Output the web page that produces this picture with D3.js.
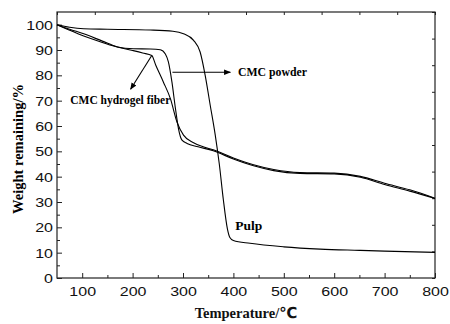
<!DOCTYPE html>
<html>
<head>
<meta charset="utf-8">
<script src="https://cdn.jsdelivr.net/npm/d3@7"></script>
<style>
  html, body { margin: 0; padding: 0; background: #fff; }
  svg { display: block; }
</style>
</head>
<body>
<div id="chart"></div>
<script>
// TGA curves (temperature in °C, weight remaining in %)
const pulpT = [50, 75, 103, 150, 235, 280, 301, 321, 334, 344, 354, 364, 372, 380, 388, 393, 400, 433, 500, 572, 650, 700, 800];
const pulpW = [100, 99.0, 98.4, 98.2, 97.9, 97.4, 96.4, 93.8, 89.2, 80.0, 68.2, 56.4, 45.0, 31.0, 19.5, 16.0, 14.8, 13.7, 12.3, 11.4, 10.9, 10.6, 10.1];

const powderT = [50, 75, 103, 140, 170, 202, 235, 255, 265, 271, 278, 285, 291, 298, 308, 330, 360, 400, 440, 480, 532, 600, 652, 700, 750, 800];
const powderW = [100, 97.8, 95.5, 93.0, 91.2, 90.5, 90.4, 90.1, 88.4, 85.3, 77.4, 66.9, 59.0, 54.4, 53.1, 51.8, 50.2, 47.0, 44.3, 42.4, 41.3, 41.1, 39.8, 36.9, 34.3, 31.4];

const hydroT = [50, 75, 103, 140, 170, 200, 220, 238, 246, 261, 275, 288, 301, 321, 340, 360, 400, 440, 480, 532, 600, 652, 700, 750, 800];
const hydroW = [100, 98.2, 96.4, 93.5, 91.2, 89.8, 88.8, 87.8, 84.0, 77.4, 70.8, 61.6, 56.4, 53.4, 51.8, 50.6, 47.4, 44.7, 42.8, 41.6, 41.4, 40.1, 37.4, 34.8, 31.5];

const xTicks = [100, 200, 300, 400, 500, 600, 700, 800];
const yTicks = [0, 10, 20, 30, 40, 50, 60, 70, 80, 90, 100];

// labels: text, anchor point [T, W], arrow from/to [T, W]
const labels = [
  { text: 'CMC powder', T: 409, W: 79.6, anchor: 'start', width: 69, from: [279, 81.2], to: [394, 81.2] },
  { text: 'CMC hydrogel fiber', T: 175.5, W: 68.6, anchor: 'middle', width: 100, from: [238, 87.8], to: [196, 74.5] },
  { text: 'Pulp', T: 403.5, W: 19.1, anchor: 'start', width: 27, from: null, to: null }
];

const W = 450, H = 324;
const margin = { top: 12, right: 15, bottom: 46, left: 57 };
const width = W - margin.left - margin.right;
const height = H - margin.top - margin.bottom;

const svg = d3.select('#chart').append('svg')
  .attr('width', W)
  .attr('height', H);

svg.append('defs').append('marker')
  .attr('id', 'arrow')
  .attr('viewBox', '0 0 10 10')
  .attr('refX', 9)
  .attr('refY', 5)
  .attr('markerWidth', 7)
  .attr('markerHeight', 7)
  .attr('markerUnits', 'userSpaceOnUse')
  .attr('orient', 'auto')
  .append('path')
  .attr('d', 'M0,1 L10,5 L0,9 Z')
  .attr('fill', '#000');

const g = svg.append('g')
  .attr('transform', `translate(${margin.left},${margin.top})`);

const x = d3.scaleLinear().domain([50, 800]).range([0, width]);
const y = d3.scaleLinear().domain([0, 105]).range([height, 0]);

// stretch text horizontally like the scanned figure
function stretch(sel, k) {
  sel.each(function () {
    const w = this.getComputedTextLength();
    d3.select(this).attr('textLength', w * k).attr('lengthAdjust', 'spacingAndGlyphs');
  });
}

// bottom axis, ticks inward
g.append('g')
  .attr('transform', `translate(0,${height})`)
  .call(d3.axisBottom(x).tickValues(xTicks).tickSizeInner(-5).tickSizeOuter(0).tickPadding(9));
g.append('g')
  .attr('transform', `translate(0,${height})`)
  .call(d3.axisBottom(x).tickValues(d3.range(150, 800, 100)).tickSizeInner(-3).tickSizeOuter(0).tickFormat(''));

// left axis, ticks inward
const yAxis = g.append('g')
  .call(d3.axisLeft(y).tickValues(yTicks).tickSizeInner(-5).tickSizeOuter(0).tickPadding(4));
g.append('g')
  .call(d3.axisLeft(y).tickValues(d3.range(5, 105, 10)).tickSizeInner(-3).tickSizeOuter(0).tickFormat(''));

// top and right axes: 10 equal divisions, no labels
const xTop = d3.scaleLinear().domain([0, 10]).range([0, width]);
const yRight = d3.scaleLinear().domain([0, 10]).range([height, 0]);
g.append('g')
  .call(d3.axisTop(xTop).ticks(10).tickSizeInner(-3).tickSizeOuter(0).tickFormat(''));
g.append('g')
  .attr('transform', `translate(${width},0)`)
  .call(d3.axisRight(yRight).ticks(10).tickSizeInner(-3).tickSizeOuter(0).tickFormat(''));

g.selectAll('.domain').remove();
g.selectAll('.tick line').attr('stroke', '#222');

g.append('rect')
  .attr('width', width)
  .attr('height', height)
  .attr('fill', 'none')
  .attr('stroke', '#222')
  .attr('stroke-width', 1.2);

g.selectAll('.tick text')
  .attr('font-family', '"Liberation Sans", Arial, sans-serif')
  .attr('font-size', 12.5)
  .attr('fill', '#111');
yAxis.selectAll('.tick text').attr('dy', '0.36em');
stretch(g.selectAll('.tick text'), 1.28);

// curves
const line = d3.line()
  .x(d => x(d[0]))
  .y(d => y(d[1]))
  .curve(d3.curveMonotoneX);

const series = [
  d3.zip(pulpT, pulpW),
  d3.zip(powderT, powderW),
  d3.zip(hydroT, hydroW)
];

g.selectAll('.curve')
  .data(series)
  .enter()
  .append('path')
  .attr('class', 'curve')
  .attr('d', line)
  .attr('fill', 'none')
  .attr('stroke', '#000')
  .attr('stroke-width', 1.1);

// annotations
labels.filter(d => d.from).forEach(d => {
  g.append('line')
    .attr('x1', x(d.from[0]))
    .attr('y1', y(d.from[1]))
    .attr('x2', x(d.to[0]))
    .attr('y2', y(d.to[1]))
    .attr('stroke', '#000')
    .attr('stroke-width', 1.1)
    .attr('marker-end', 'url(#arrow)');
});

g.selectAll('.label')
  .data(labels)
  .enter()
  .append('text')
  .attr('class', 'label')
  .attr('x', d => x(d.T))
  .attr('y', d => y(d.W))
  .attr('text-anchor', d => d.anchor)
  .attr('font-family', '"Liberation Serif", "Times New Roman", serif')
  .attr('font-weight', 'bold')
  .attr('font-size', 13)
  .attr('textLength', d => d.width)
  .attr('lengthAdjust', 'spacingAndGlyphs')
  .text(d => d.text);

// axis titles
const xTitle = svg.append('text')
  .attr('x', margin.left + width / 2)
  .attr('y', 318)
  .attr('text-anchor', 'middle')
  .attr('font-family', '"Liberation Serif", "Times New Roman", serif')
  .attr('font-weight', 'bold')
  .attr('font-size', 14.5)
  .attr('fill', '#111');
xTitle.append('tspan').text('Temperature/');
xTitle.append('tspan')
  .attr('font-family', '"DejaVu Sans", "Liberation Sans", sans-serif')
  .attr('font-size', 15)
  .text('℃');

svg.append('text')
  .attr('transform', `translate(23,${margin.top + height / 2 + 4}) rotate(-90)`)
  .attr('text-anchor', 'middle')
  .attr('font-family', '"Liberation Serif", "Times New Roman", serif')
  .attr('font-weight', 'bold')
  .attr('font-size', 14.5)
  .attr('fill', '#000')
  .text('Weight remaining/%');
</script>
</body>
</html>
